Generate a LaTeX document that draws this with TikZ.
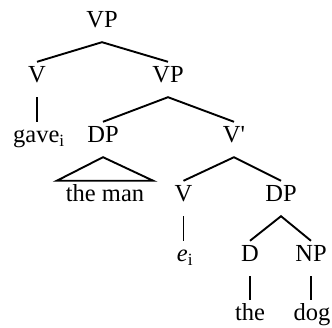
\documentclass[tikz,border=0pt]{standalone}
\usepackage{fontspec}
\setmainfont{Liberation Serif}
\usepackage{tikz}
\begin{document}
\begin{tikzpicture}[x=1pt, y=-1pt,
    cat/.style={anchor=base, inner sep=0pt, text height=21pt, text depth=14pt, font=\fontsize{24.5}{29}\selectfont},
    branch/.style={line width=1.9pt}]
    \useasboundingbox (0,0) rectangle (332,328);

    % Upper VP shell
    \node[cat] (vp0) at (102,28) {VP};
    \node[cat] (v1) at (37,83) {V};
    \node[cat] (vp1) at (168,83) {VP};
    \node[cat] (gave) at (39,143) {gave\textsubscript{i}};

    % Lower VP
    \node[cat] (dp1) at (103,143) {DP};
    \node[cat] (vbar) at (234,143) {V\textquotesingle};
    \node[cat, inner xsep=9pt] (theman) at (105,202) {the man};
    \node[cat] (v2) at (183.5,202) {V};
    \node[cat] (dp2) at (281,202) {DP};
    \node[cat] (ei) at (185,262) {\textit{e}\textsubscript{i}};

    % Object DP
    \node[cat] (d) at (250,262) {D};
    \node[cat] (np) at (311,262) {NP};
    \node[cat] (the) at (250,321) {the};
    \node[cat] (dog) at (312,321) {dog};

    % Branches
    \draw[branch] (v1.north) -- (vp0.south) -- (vp1.north);
    \draw[branch] (v1.south) -- (v1.south |- gave.north);
    \draw[branch] (dp1.north) -- (vp1.south) -- (vbar.north);
    \draw[branch] (dp1.south) -- (theman.north west) -- (theman.north east) -- cycle;
    \draw[branch] (v2.north) -- (vbar.south) -- (dp2.north);
    \draw[branch] (v2.south) -- (v2.south |- ei.north);
    \draw[branch] (d.north) -- (dp2.south) -- (np.north);
    \draw[branch] (d.south) -- (d.south |- the.north);
    \draw[branch] (np.south) -- (np.south |- dog.north);
\end{tikzpicture}
\end{document}
